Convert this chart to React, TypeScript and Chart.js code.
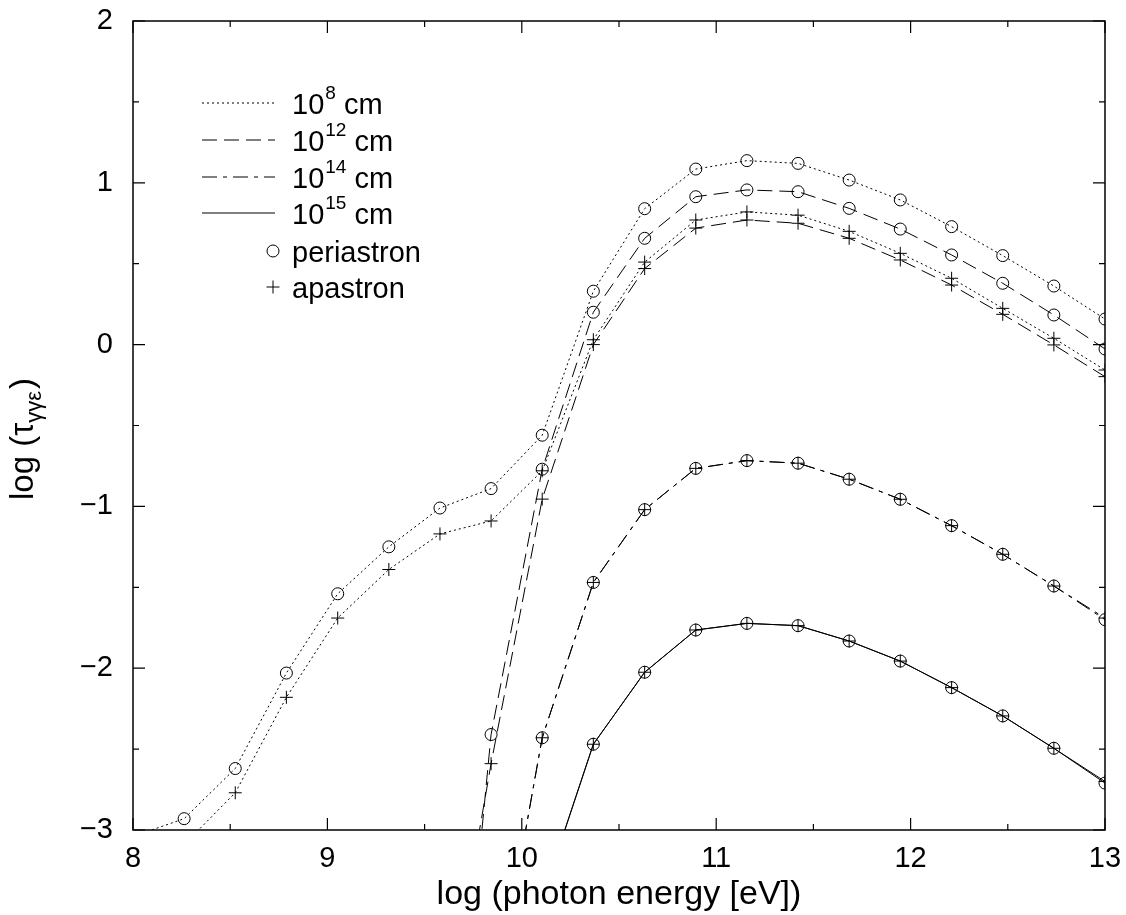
import React, { useEffect, useRef } from "react";
import { Chart, registerables } from "chart.js";

Chart.register(...registerables);

// log photon energy [eV] sample points
const energies = [
  8.0, 8.263, 8.526, 8.789, 9.053, 9.316, 9.579, 9.842, 10.105, 10.368,
  10.632, 10.895, 11.158, 11.421, 11.684, 11.947, 12.211, 12.474, 12.737, 13.0,
];

// log(tau) — 10^8 cm
const peri8 = [
  -3.04, -2.93, -2.62, -2.03, -1.54, -1.25, -1.01, -0.89, -0.56, 0.33,
  0.84, 1.085, 1.137, 1.12, 1.017, 0.894, 0.729, 0.55, 0.362, 0.158,
];
const apo8 = [
  -3.25, -3.09, -2.77, -2.18, -1.69, -1.39, -1.17, -1.09, -0.78, 0.03,
  0.51, 0.77, 0.82, 0.8, 0.7, 0.564, 0.41, 0.224, 0.039, -0.157,
];
// 10^12 cm
const peri12 = [
  null, null, null, null, null, null, -5.7, -2.41, -0.77, 0.2,
  0.657, 0.914, 0.956, 0.945, 0.842, 0.714, 0.554, 0.379, 0.183, -0.027,
];
const apo12 = [
  null, null, null, null, null, null, -4.4, -2.59, -0.955, 0.0,
  0.47, 0.72, 0.77, 0.75, 0.657, 0.523, 0.368, 0.187, -0.002, -0.198,
];
// 10^14 cm
const peri14 = [
  null, null, null, null, null, null, null, -4.19, -2.43, -1.47,
  -1.02, -0.765, -0.717, -0.733, -0.832, -0.956, -1.119, -1.296, -1.492, -1.7,
];
const apo14 = [
  null, null, null, null, null, null, null, -4.19, -2.43, -1.47,
  -1.02, -0.765, -0.717, -0.733, -0.832, -0.956, -1.119, -1.296, -1.492, -1.69,
];
// 10^15 cm
const peri15 = [
  null, null, null, null, null, null, null, null, -3.42, -2.47,
  -2.025, -1.764, -1.723, -1.737, -1.832, -1.956, -2.12, -2.295, -2.495, -2.71,
];
const apo15 = [
  null, null, null, null, null, null, null, null, -3.42, -2.47,
  -2.025, -1.764, -1.723, -1.737, -1.832, -1.956, -2.12, -2.295, -2.495, -2.7,
];

const xTicks = [8, 9, 10, 11, 12, 13];
const yTicks = [-3, -2, -1, 0, 1, 2];

const legendLines = [
  { base: "10", sup: "8", unit: " cm", dash: [2, 3] },
  { base: "10", sup: "12", unit: " cm", dash: [15, 7] },
  { base: "10", sup: "14", unit: " cm", dash: [15, 6, 4, 6] },
  { base: "10", sup: "15", unit: " cm", dash: [] as number[] },
];

const FONT = '"Liberation Sans", Arial, Helvetica, sans-serif';
const f = (s: number) => `${s}px ${FONT}`;

function mk(label: string, arr: (number | null)[], dash: number[], style: string) {
  return {
    label,
    data: energies.map((x, i) => ({ x, y: arr[i] })),
    borderColor: "#000",
    borderWidth: 1,
    borderDash: dash,
    backgroundColor: "rgba(0,0,0,0)",
    pointStyle: style,
    pointBorderColor: "#000",
    pointBackgroundColor: "rgba(0,0,0,0)",
    pointBorderWidth: 1,
    pointRadius: (ctx: any) => {
      const v = ctx.raw && ctx.raw.y;
      if (v === null || v === undefined || v < -3 || v > 2) return 0;
      return style === "cross" ? 6.5 : 6;
    },
    tension: 0,
    fill: false,
  };
}

const framePlugin = {
  id: "frameAndLegend",
  afterDraw(chart: any) {
    const { ctx, chartArea, scales } = chart;
    const { left, right, top, bottom } = chartArea;
    ctx.save();
    ctx.strokeStyle = "#000";
    ctx.setLineDash([]);
    ctx.lineWidth = 1.5;
    ctx.strokeRect(left, top, right - left, bottom - top);
    ctx.lineWidth = 1.2;
    // ticks
    for (let v = 8; v <= 13.001; v += 0.5) {
      const px = scales.x.getPixelForValue(v);
      const len = Math.abs(v - Math.round(v)) < 1e-6 ? 12 : 6;
      ctx.beginPath();
      ctx.moveTo(px, bottom);
      ctx.lineTo(px, bottom - len);
      ctx.moveTo(px, top);
      ctx.lineTo(px, top + len);
      ctx.stroke();
    }
    for (let v = -3; v <= 2.001; v += 0.5) {
      const py = scales.y.getPixelForValue(v);
      const len = Math.abs(v - Math.round(v)) < 1e-6 ? 12 : 6;
      ctx.beginPath();
      ctx.moveTo(left, py);
      ctx.lineTo(left + len, py);
      ctx.moveTo(right, py);
      ctx.lineTo(right - len, py);
      ctx.stroke();
    }
    ctx.fillStyle = "#000";
    // x title
    ctx.font = f(34);
    ctx.textAlign = "center";
    ctx.textBaseline = "alphabetic";
    ctx.fillText("log (photon energy [eV])", (left + right) / 2, 904);
    // y title (rotated)
    ctx.save();
    ctx.translate(33, 500);
    ctx.rotate(-Math.PI / 2);
    ctx.textAlign = "left";
    ctx.font = f(33);
    let x = 0;
    const p1 = "log (\u03c4";
    ctx.fillText(p1, x, 0);
    x += ctx.measureText(p1).width;
    ctx.font = f(22);
    const sub = "\u03b3\u03b3\u03b5";
    ctx.fillText(sub, x, 8);
    x += ctx.measureText(sub).width;
    ctx.font = f(33);
    ctx.fillText(")", x + 2, 0);
    ctx.restore();

    // legend
    const rowY = [103, 140, 177, 213, 251, 287];
    const lx0 = 202, lx1 = 275, tx = 292;
    ctx.textAlign = "left";
    legendLines.forEach((l, i) => {
      const y = rowY[i];
      ctx.lineWidth = 1;
      ctx.setLineDash(l.dash);
      ctx.beginPath();
      ctx.moveTo(lx0, y);
      ctx.lineTo(lx1, y);
      ctx.stroke();
      ctx.setLineDash([]);
      ctx.font = f(29);
      ctx.fillText(l.base, tx, y + 11);
      let w = ctx.measureText(l.base).width;
      ctx.font = f(19);
      ctx.fillText(l.sup, tx + w + 1, y - 4);
      w += ctx.measureText(l.sup).width + 1;
      ctx.font = f(29);
      ctx.fillText(l.unit, tx + w, y + 11);
    });
    // marker entries
    ctx.lineWidth = 1;
    ctx.setLineDash([]);
    ctx.beginPath();
    ctx.arc(273, rowY[4], 6, 0, Math.PI * 2);
    ctx.stroke();
    ctx.font = f(29);
    ctx.fillText("periastron", tx, rowY[4] + 11);
    ctx.beginPath();
    ctx.moveTo(273 - 6.5, rowY[5]);
    ctx.lineTo(273 + 6.5, rowY[5]);
    ctx.moveTo(273, rowY[5] - 6.5);
    ctx.lineTo(273, rowY[5] + 6.5);
    ctx.stroke();
    ctx.fillText("apastron", tx, rowY[5] + 11);
    ctx.restore();
  },
};

export default function App() {
  const ref = useRef<HTMLCanvasElement | null>(null);
  useEffect(() => {
    document.body.style.margin = "0";
    const canvas = ref.current;
    if (!canvas) return;
    const chart = new Chart(canvas, {
      type: "line",
      data: {
        datasets: [
          mk("10^8 peri", peri8, [2, 3], "circle"),
          mk("10^8 apo", apo8, [2, 3], "cross"),
          mk("10^12 peri", peri12, [15, 7], "circle"),
          mk("10^12 apo", apo12, [15, 7], "cross"),
          mk("10^14 peri", peri14, [15, 6, 4, 6], "circle"),
          mk("10^14 apo", apo14, [15, 6, 4, 6], "cross"),
          mk("10^15 peri", peri15, [], "circle"),
          mk("10^15 apo", apo15, [], "cross"),
        ] as any,
      },
      options: {
        responsive: false,
        animation: false,
        devicePixelRatio: 1,
        layout: { padding: { left: 0, top: 21, right: 21, bottom: 0 } },
        plugins: { legend: { display: false }, tooltip: { enabled: false } },
        scales: {
          x: {
            type: "linear",
            min: 8,
            max: 13,
            afterBuildTicks: (s: any) => {
              s.ticks = xTicks.map((v) => ({ value: v }));
            },
            afterFit: (s: any) => {
              s.height = 85;
              s.paddingLeft = 0;
              s.paddingRight = 0;
            },
            grid: { display: false, drawTicks: false },
            border: { display: false },
            ticks: {
              color: "#000",
              font: { family: FONT, size: 29 },
              padding: 12,
              maxRotation: 0,
              autoSkip: false,
              callback: (v: any) => String(v),
            },
          },
          y: {
            type: "linear",
            min: -3,
            max: 2,
            afterBuildTicks: (s: any) => {
              s.ticks = yTicks.map((v) => ({ value: v }));
            },
            afterFit: (s: any) => {
              s.width = 133;
              s.paddingTop = 0;
              s.paddingBottom = 0;
            },
            grid: { display: false, drawTicks: false },
            border: { display: false },
            ticks: {
              color: "#000",
              font: { family: FONT, size: 29 },
              padding: 20,
              autoSkip: false,
              callback: (v: any) => (v < 0 ? "\u2212" + Math.abs(v) : String(v)),
            },
          },
        },
      },
      plugins: [framePlugin],
    });
    return () => chart.destroy();
  }, []);
  return (
    <div style={{ width: 1126, height: 915 }}>
      <canvas ref={ref} width={1126} height={915} style={{ display: "block" }} />
    </div>
  );
}
